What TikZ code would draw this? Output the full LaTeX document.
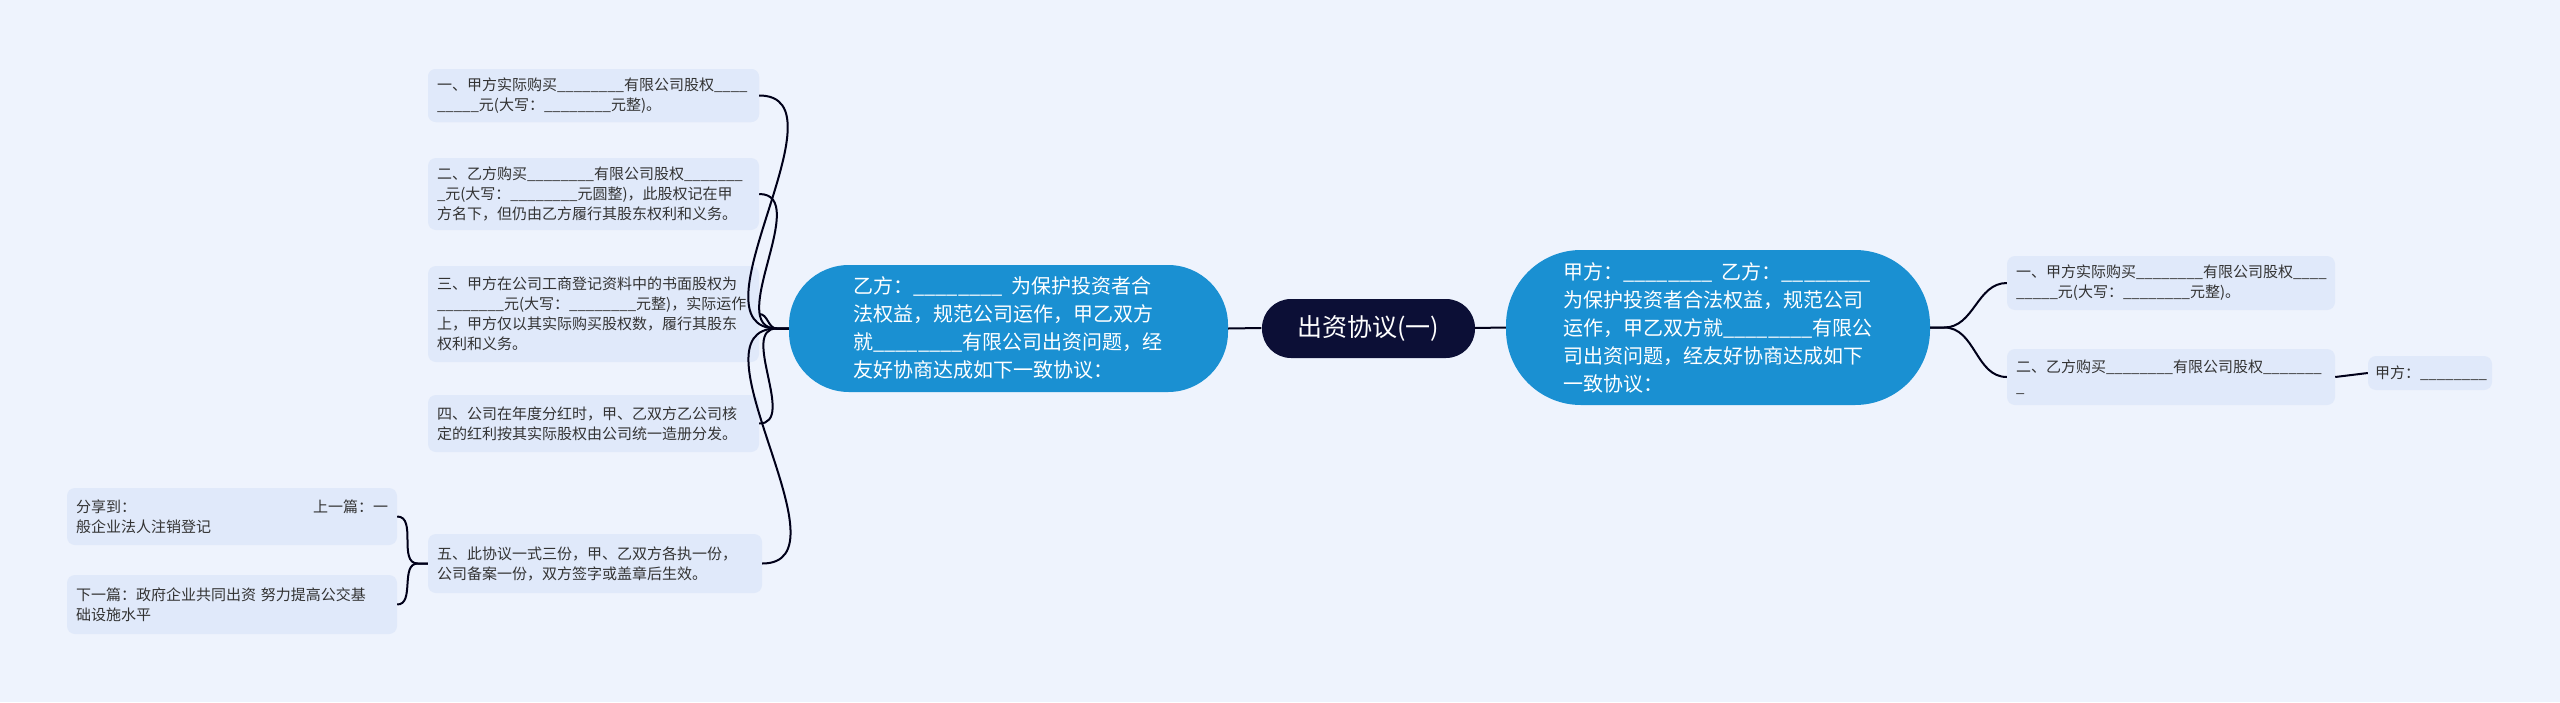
\documentclass[tikz,border=0pt]{standalone}
\usepackage{fontspec}
\setmainfont{Noto Sans CJK SC}
\begin{document}
\begin{tikzpicture}[x=1pt,y=-1pt,
  leaf/.style={fill=leafc,rounded corners=8pt,text=black!80,font=\fontsize{15}{20}\selectfont,align=left,anchor=north west,inner sep=0pt},
  big/.style={fill=bigc,text=white,rounded corners=38pt,font=\fontsize{20}{28}\selectfont,align=left,inner sep=0pt},
  link/.style={draw=black!90!blue,line width=2pt}]
\definecolor{bgc}{HTML}{EEF3FD}
\definecolor{leafc}{HTML}{E0E9FA}
\definecolor{bigc}{HTML}{1A90D2}
\definecolor{cenc}{HTML}{0C0F36}
\fill[bgc] (0,0) rectangle (2560,702);
\useasboundingbox (0,0) rectangle (2560,702);
% center
\fill[cenc,rounded corners=29pt] (1262,299) rectangle (1475,358);
\node[text=white,font=\fontsize{25}{30}\selectfont] (c) at (1368,328) {出资协议(一)};
\path (1262,299) coordinate (cnw) (1475,358) coordinate (cse);
\node[inner sep=0pt,minimum width=213pt,minimum height=59pt] (cen) at (1368,328) {};
% big nodes
\fill[bigc,rounded corners=60pt] (789,265) rectangle (1228,392);
\node[text=white,font=\fontsize{20}{28}\selectfont,align=left] at (1008,328) {乙方：\_\_\_\_\_\_\_\_ \ 为保护投资者合\\法权益，规范公司运作，甲乙双方\\就\_\_\_\_\_\_\_\_有限公司出资问题，经\\友好协商达成如下一致协议：};
\node[inner sep=0pt,minimum width=439pt,minimum height=127pt] (L) at (1008.5,328.5) {};
\fill[bigc,rounded corners=75pt] (1506,250) rectangle (1930,405);
\node[text=white,font=\fontsize{20}{28}\selectfont,align=left] at (1718,328) {甲方：\_\_\_\_\_\_\_\_ \ 乙方：\_\_\_\_\_\_\_\_\\为保护投资者合法权益，规范公司\\运作，甲乙双方就\_\_\_\_\_\_\_\_有限公\\司出资问题，经友好协商达成如下\\一致协议：};
\node[inner sep=0pt,minimum width=424pt,minimum height=155pt] (R) at (1718,327.5) {};
% left leaves
\path[leaf] (428,69) rectangle (759,122); \node[anchor=north west,inner sep=0pt] at (428,69) {};
\node[leaf,minimum width=331pt,minimum height=53pt,text width=313pt,inner xsep=9pt,inner ysep=7pt,anchor=center] (l1) at (593.5,95.5) {一、甲方实际购买\_\_\_\_\_\_\_\_有限公司股权\_\_\_\_\\\_\_\_\_\_元(大写：\_\_\_\_\_\_\_\_元整)。};
\node[leaf,minimum width=331pt,minimum height=72pt,text width=313pt,inner xsep=9pt,anchor=center] (l2) at (593.5,194) {二、乙方购买\_\_\_\_\_\_\_\_有限公司股权\_\_\_\_\_\_\_\\\_元(大写：\_\_\_\_\_\_\_\_元圆整)，此股权记在甲\\方名下，但仍由乙方履行其股东权利和义务。};
\node[leaf,minimum width=331pt,minimum height=96pt,text width=313pt,inner xsep=9pt,anchor=center] (l3) at (593.5,314) {三、甲方在公司工商登记资料中的书面股权为\\\_\_\_\_\_\_\_\_元(大写：\_\_\_\_\_\_\_\_元整)，实际运作\\上，甲方仅以其实际购买股权数，履行其股东\\权利和义务。};
\node[leaf,minimum width=331pt,minimum height=57pt,text width=313pt,inner xsep=9pt,anchor=center] (l4) at (593.5,423.5) {四、公司在年度分红时，甲、乙双方乙公司核\\定的红利按其实际股权由公司统一造册分发。};
\node[leaf,minimum width=334pt,minimum height=59pt,text width=316pt,inner xsep=9pt,anchor=center] (l5) at (595,563.5) {五、此协议一式三份，甲、乙双方各执一份，\\公司备案一份，双方签字或盖章后生效。};
\node[leaf,minimum width=330pt,minimum height=57pt,text width=312pt,inner xsep=9pt,anchor=center] (f1) at (232,516.5) {分享到：\hfill 上一篇：一\\般企业法人注销登记};
\node[leaf,minimum width=330pt,minimum height=59pt,text width=312pt,inner xsep=9pt,anchor=center] (f2) at (232,604.5) {下一篇：政府企业共同出资 努力提高公交基\\础设施水平};
% right leaves
\node[leaf,minimum width=328pt,minimum height=54pt,text width=310pt,inner xsep=9pt,anchor=center] (r1) at (2171,283) {一、甲方实际购买\_\_\_\_\_\_\_\_有限公司股权\_\_\_\_\\\_\_\_\_\_元(大写：\_\_\_\_\_\_\_\_元整)。};
\node[leaf,minimum width=328pt,minimum height=56pt,text width=310pt,inner xsep=9pt,anchor=center] (r2) at (2171,377) {二、乙方购买\_\_\_\_\_\_\_\_有限公司股权\_\_\_\_\_\_\_\\\_};
\node[leaf,minimum width=124pt,minimum height=34pt,text width=110pt,inner xsep=7pt,anchor=center] (r3) at (2430,373) {甲方：\_\_\_\_\_\_\_\_};
% connectors
\draw[link] (cen.west) -- (L.east);
\draw[link] (cen.east) -- (R.east -| R.west);
\foreach \n in {l1,l2,l3,l4,l5}
  \draw[link] (L.west) -- ++(-12,0) to[out=180,in=0] (\n.east);
\draw[link] (l5.west) -- ++(-10,0) to[out=180,in=0] (f1.east);
\draw[link] (l5.west) -- ++(-10,0) to[out=180,in=0] (f2.east);
\draw[link] (R.east) -- ++(-0,0) -- ++(14,0) to[out=0,in=180] (r1.west);
\draw[link] (R.east) -- ++(14,0) to[out=0,in=180] (r2.west);
\draw[link] (r2.east) -- (r3.west);
\end{tikzpicture}
\end{document}
